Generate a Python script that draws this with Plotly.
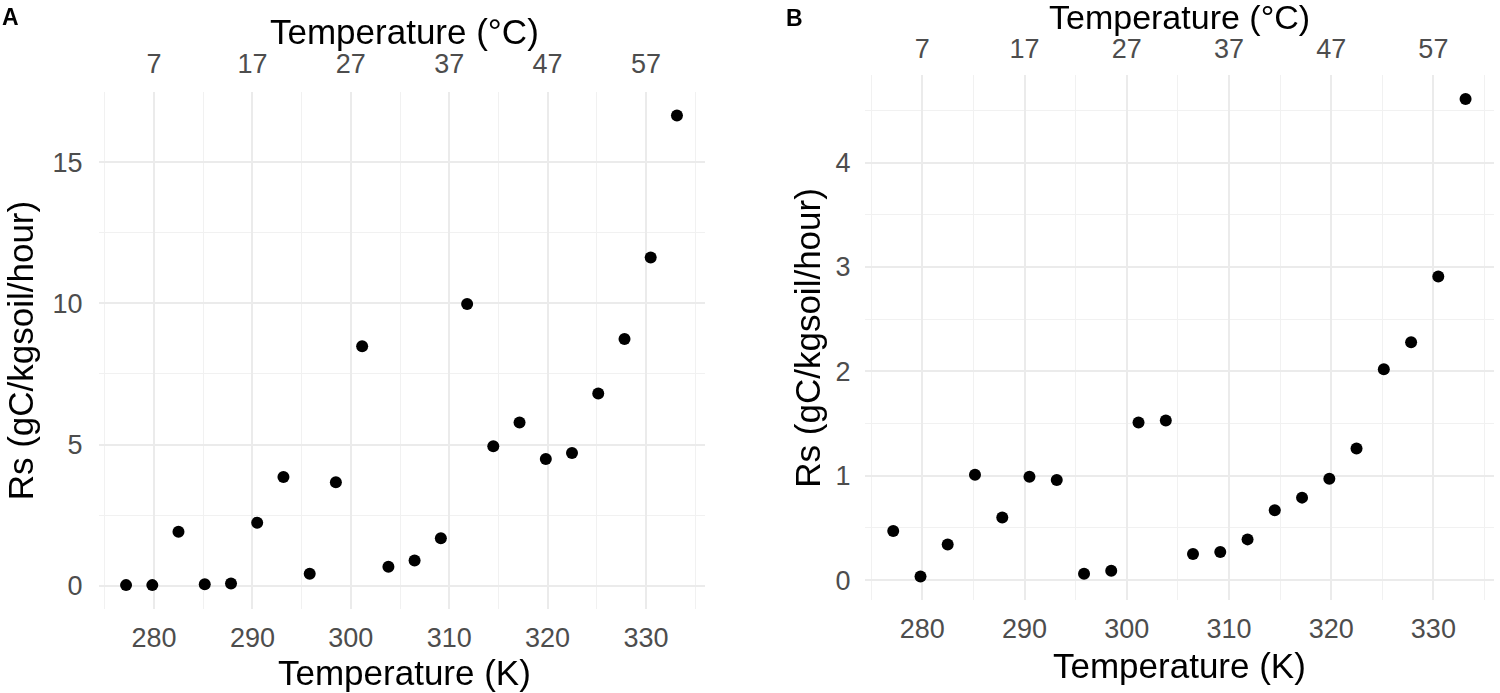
import plotly.graph_objects as go

# ---------------- data ----------------
temp_k = [277.15, 279.82, 282.48, 285.15, 287.82, 290.48, 293.15, 295.82,
          298.48, 301.15, 303.82, 306.48, 309.15, 311.82, 314.48, 317.15,
          319.82, 322.48, 325.15, 327.82, 330.48, 333.15]
rs_a = [0.02, 0.02, 1.91, 0.05, 0.08, 2.23, 3.85, 0.42, 3.66, 8.48, 0.67,
        0.89, 1.68, 9.98, 4.94, 5.78, 4.49, 4.70, 6.81, 8.74, 11.62, 16.65]
rs_b = [0.47, 0.035, 0.34, 1.01, 0.60, 0.99, 0.96, 0.06, 0.09, 1.51, 1.53,
        0.25, 0.27, 0.39, 0.67, 0.79, 0.97, 1.26, 2.02, 2.28, 2.91, 4.61]

k_breaks = [280, 290, 300, 310, 320, 330]
k_minor = [275, 285, 295, 305, 315, 325, 335]
c_breaks = [7, 17, 27, 37, 47, 57]
ya_breaks = [0, 5, 10, 15]
ya_minor = [2.5, 7.5, 12.5]
yb_breaks = [0, 1, 2, 3, 4]
yb_minor = [0.5, 1.5, 2.5, 3.5, 4.5]
offset_c = 273

W, H = 1500, 693
FONT = "Liberation Sans, Arial, sans-serif"
TICK_COL = "#4D4D4D"
GRID = "#EBEBEB"
MINOR = "#F1F1F1"


def px(x):
    return x / W


def py(y):
    return 1 - y / H


def expand(vals):
    lo, hi = min(vals), max(vals)
    d = (hi - lo) * 0.05
    return [lo - d, hi + d]


xr = expand(temp_k)
yra = expand(rs_a)
yrb = expand(rs_b)
temp_c = [t - offset_c for t in temp_k]

fig = go.Figure()
mk = dict(color="black", size=12, line=dict(width=0))
fig.add_trace(go.Scatter(x=temp_k, y=rs_a, mode="markers", marker=mk,
                         xaxis="x", yaxis="y", showlegend=False))
fig.add_trace(go.Scatter(x=temp_c, y=rs_a, mode="markers", marker=mk, opacity=0,
                         xaxis="x2", yaxis="y", showlegend=False, hoverinfo="skip"))
fig.add_trace(go.Scatter(x=temp_k, y=rs_b, mode="markers", marker=mk,
                         xaxis="x3", yaxis="y3", showlegend=False))
fig.add_trace(go.Scatter(x=temp_c, y=rs_b, mode="markers", marker=mk, opacity=0,
                         xaxis="x4", yaxis="y3", showlegend=False, hoverinfo="skip"))

tickfont = dict(family=FONT, size=27, color=TICK_COL)

dom_xa = [px(98.5), px(704.5)]
dom_ya = [py(608.6), py(92.1)]
dom_xb = [px(864.6), px(1494.2)]
dom_yb = [py(600.3), py(75.1)]


def xbottom(dom, anchor):
    return dict(domain=dom, anchor=anchor, range=xr, tickmode="array",
                tickvals=k_breaks, showgrid=True, gridcolor=GRID, gridwidth=2.2,
                zeroline=False, showline=False, ticks="", tickfont=tickfont,
                ticklabelstandoff=10,
                minor=dict(tickmode="array", tickvals=k_minor, showgrid=True,
                           gridcolor=MINOR, gridwidth=1.2, ticks=""))


def xtop(over, anchor, stand):
    return dict(overlaying=over, anchor=anchor, side="top",
                range=[xr[0] - offset_c, xr[1] - offset_c], tickmode="array",
                tickvals=c_breaks, showgrid=False, zeroline=False, showline=False,
                ticks="", tickfont=tickfont, ticklabelstandoff=stand)


def yaxis(dom, anchor, rng, br, mn, stand):
    return dict(domain=dom, anchor=anchor, range=rng, tickmode="array",
                tickvals=br, showgrid=True, gridcolor=GRID, gridwidth=2.2,
                zeroline=False, showline=False, ticks="", tickfont=tickfont,
                ticklabelstandoff=stand,
                minor=dict(tickmode="array", tickvals=mn, showgrid=True,
                           gridcolor=MINOR, gridwidth=1.2, ticks=""))


fig.update_layout(
    width=W, height=H,
    margin=dict(l=0, r=0, t=0, b=0, autoexpand=False),
    paper_bgcolor="white", plot_bgcolor="white",
    font=dict(family=FONT),
    xaxis=xbottom(dom_xa, "y"),
    xaxis2=xtop("x", "y", 13),
    yaxis=yaxis(dom_ya, "x", yra, ya_breaks, ya_minor, 15),
    xaxis3=xbottom(dom_xb, "y3"),
    xaxis4=xtop("x3", "y3", 11),
    yaxis3=yaxis(dom_yb, "x3", yrb, yb_breaks, yb_minor, 13),
)

title_font = dict(family=FONT, size=35, color="black")
title_font_b = dict(family=FONT, size=34, color="black")
ann = []


def add_text(text, x, y, font, angle=0):
    ann.append(dict(text=text, x=px(x), y=py(y), xref="paper", yref="paper",
                    xanchor="center", yanchor="middle", showarrow=False,
                    font=font, textangle=angle))


cxa = (98.5 + 704.5) / 2 + 3
cxb = (864.6 + 1494.2) / 2
add_text("Temperature (°C)", cxa, 31, title_font)
add_text("Temperature (K)", cxa, 672, title_font)
add_text("Rs (gC/kgsoil/hour)", 20, (92.1 + 608.6) / 2, title_font, -90)
add_text("Temperature (°C)", cxb, 17, title_font_b)
add_text("Temperature (K)", cxb, 665, title_font)
add_text("Rs (gC/kgsoil/hour)", 808, (75.1 + 600.3) / 2, title_font, -90)
add_text("<b>A</b>", 10.5, 16.5, dict(family=FONT, size=23, color="black"))
add_text("<b>B</b>", 794.5, 17.5, dict(family=FONT, size=23, color="black"))
fig.update_layout(annotations=ann)

fig.write_html("out.html", config={"displayModeBar": False},
               post_script="document.body.style.margin='0';document.body.style.padding='0';")
